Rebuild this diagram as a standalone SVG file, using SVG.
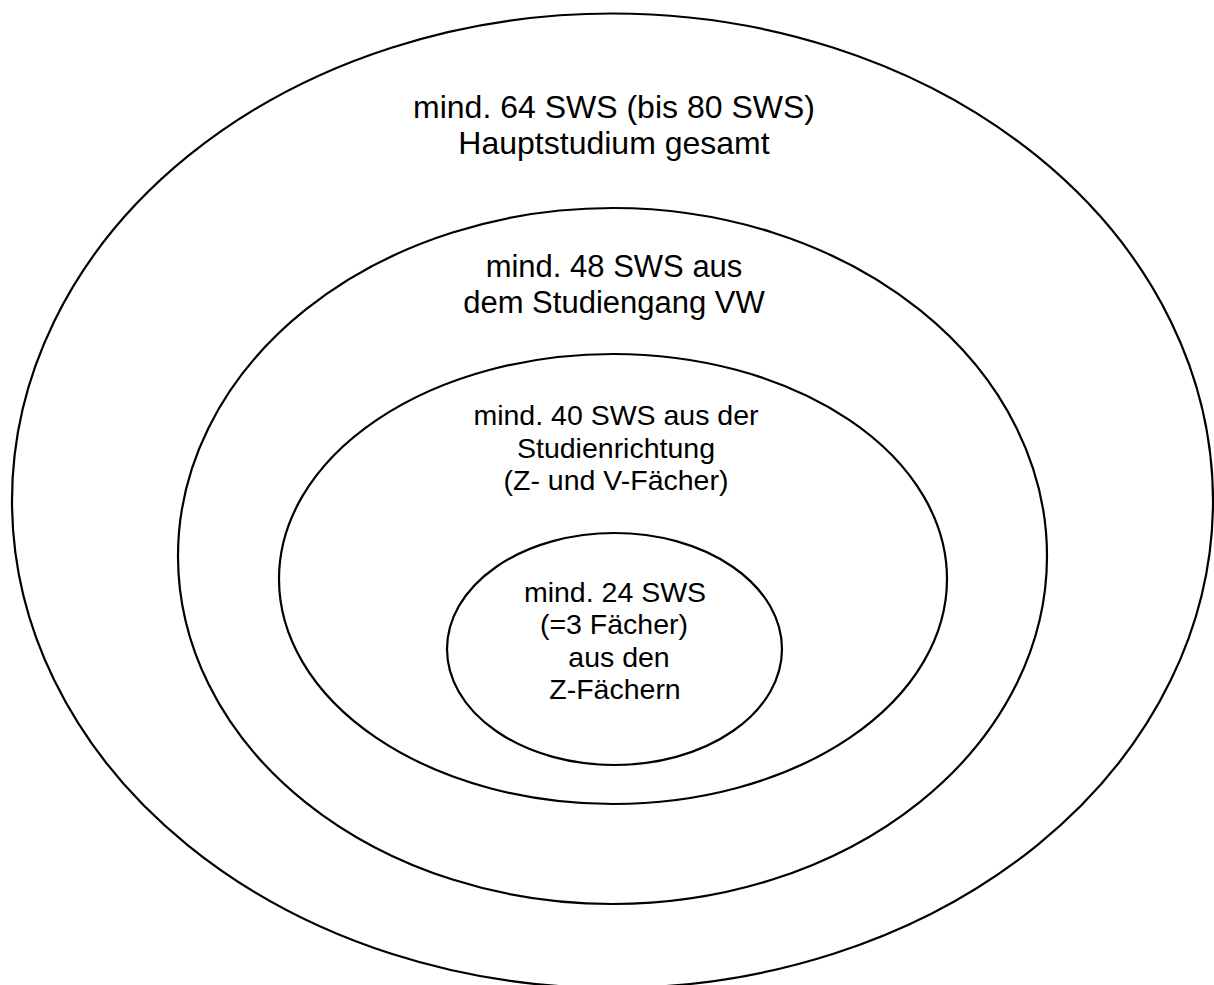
<svg xmlns="http://www.w3.org/2000/svg" width="1214" height="985" viewBox="0 0 1214 985">
  <style>
    .ring { fill: none; stroke: #000; stroke-width: 2.2; }
    .lbl { font-family: "Liberation Sans", Arial, sans-serif; fill: #000; text-anchor: middle; }
  </style>
  <rect x="0" y="0" width="1214" height="985" fill="#fff"/>

  <!-- outermost ring: whole main study phase -->
  <g id="hauptstudium">
    <ellipse class="ring" cx="612.5" cy="500.75" rx="600.5" ry="487.25"/>
    <text class="lbl" font-size="32" x="614" y="118">mind. 64 SWS (bis 80 SWS)</text>
    <text class="lbl" font-size="32" x="614" y="154">Hauptstudium gesamt</text>
  </g>

  <!-- degree programme -->
  <g id="studiengang">
    <ellipse class="ring" cx="612.5" cy="556" rx="434.5" ry="348"/>
    <text class="lbl" font-size="31" x="614" y="277">mind. 48 SWS aus</text>
    <text class="lbl" font-size="31" x="614" y="313">dem Studiengang VW</text>
  </g>

  <!-- field of study -->
  <g id="studienrichtung">
    <ellipse class="ring" cx="613" cy="579" rx="334" ry="225"/>
    <text class="lbl" font-size="28.5" x="616" y="425">mind. 40 SWS aus der</text>
    <text class="lbl" font-size="28.5" x="616" y="458">Studienrichtung</text>
    <text class="lbl" font-size="28.5" x="616" y="490">(Z- und V-Fächer)</text>
  </g>

  <!-- innermost: Z subjects -->
  <g id="z-faecher">
    <ellipse class="ring" cx="614.5" cy="649" rx="167.5" ry="116"/>
    <text class="lbl" font-size="28.5" x="615" y="602">mind. 24 SWS</text>
    <text class="lbl" font-size="28.5" x="614" y="634">(=3 Fächer)</text>
    <text class="lbl" font-size="28.5" x="619" y="667">aus den</text>
    <text class="lbl" font-size="28.5" x="615" y="699">Z-Fächern</text>
  </g>

  <g id="connectors"/>
</svg>
